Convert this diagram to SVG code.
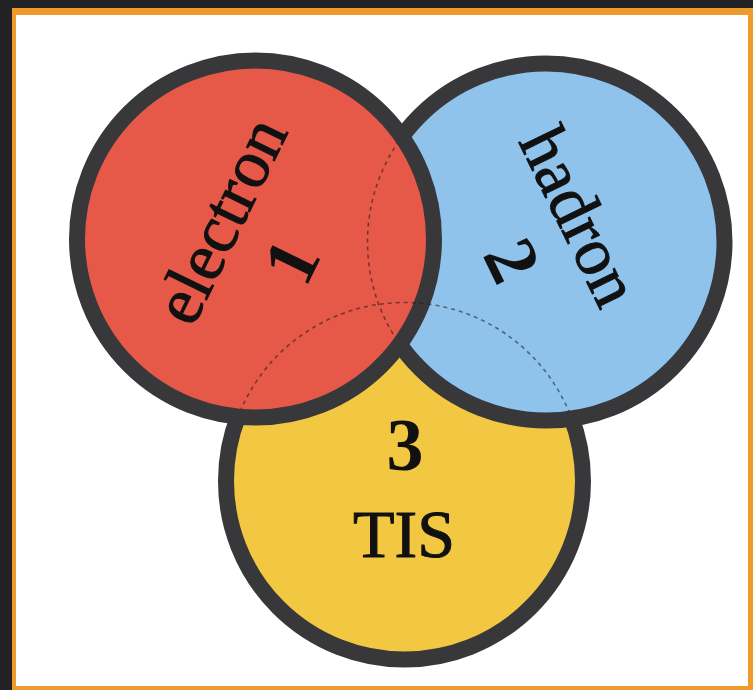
<svg xmlns="http://www.w3.org/2000/svg" width="753" height="690" viewBox="0 0 753 690">
<style>
.ring{stroke:#38383b;stroke-width:16}
.hid{fill:none;stroke:#1a1a1a;stroke-opacity:0.55;stroke-width:1.6;stroke-dasharray:4 4}
.word{font-family:"Liberation Serif","Times New Roman",serif;font-size:68px;fill:#111;stroke:#111;stroke-width:1;text-anchor:middle}
.num{font-family:"Liberation Serif","Times New Roman",serif;font-size:74px;font-weight:bold;fill:#111;text-anchor:middle}
</style>
<defs>
<clipPath id="inRed"><circle cx="255.5" cy="239" r="171"/></clipPath>
<clipPath id="inRedBlue"><circle cx="255.5" cy="239" r="171"/><circle cx="546" cy="242" r="171"/></clipPath>
</defs>
<rect x="0" y="0" width="753" height="690" fill="#222224"/>
<rect x="12" y="8" width="741" height="682" fill="#ee9a2c"/>
<rect x="16" y="15" width="732" height="671" fill="#ffffff"/>
<g id="tis">
<circle class="ring" cx="404.5" cy="481" r="178.5" fill="#f2c843"/>
</g>
<g id="hadron">
<circle class="ring" cx="546" cy="242" r="178.5" fill="#8fc3ec"/>
</g>
<g id="electron">
<circle class="ring" cx="255.5" cy="239" r="178.5" fill="#e65949"/>
</g>
<g id="connectors">
<circle class="hid" cx="546" cy="242" r="178.5" clip-path="url(#inRed)"/>
<circle class="hid" cx="404.5" cy="481" r="178.5" clip-path="url(#inRedBlue)"/>
</g>
<g id="electron-label" transform="translate(220,220) rotate(-64)">
<text class="word" x="0" y="23">electron</text>
<text class="num" x="-6" y="107">1</text>
</g>
<g id="hadron-label" transform="translate(580,216) rotate(64)">
<text class="word" x="0" y="23">hadron</text>
<text class="num" x="10" y="105">2</text>
</g>
<g id="tis-label">
<text class="num" x="405" y="470">3</text>
<text class="word" x="404" y="557">TIS</text>
</g>
</svg>
